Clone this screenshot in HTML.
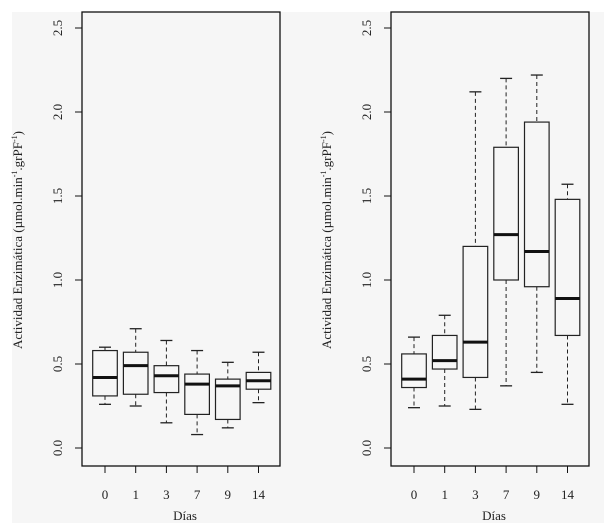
<!DOCTYPE html>
<html><head><meta charset="utf-8"><style>
html,body{margin:0;padding:0;background:#fff;}
svg{display:block;font-family:"Liberation Serif",serif;}
</style></head><body>
<svg id="chart" width="604" height="523" viewBox="0 0 604 523">
<rect x="12" y="12" width="592" height="511" fill="#f6f6f6"/>
</svg>
<script>
const categories = ["0","1","3","7","9","14"];
const leftMin = [0.26,0.25,0.15,0.08,0.12,0.27];
const leftQ1  = [0.31,0.32,0.33,0.20,0.17,0.35];
const leftMed = [0.42,0.49,0.43,0.38,0.37,0.40];
const leftQ3  = [0.58,0.57,0.49,0.44,0.41,0.45];
const leftMax = [0.60,0.71,0.64,0.58,0.51,0.57];
const rightMin = [0.24,0.25,0.23,0.37,0.45,0.26];
const rightQ1  = [0.36,0.47,0.42,1.00,0.96,0.67];
const rightMed = [0.41,0.52,0.63,1.27,1.17,0.89];
const rightQ3  = [0.56,0.67,1.20,1.79,1.94,1.48];
const rightMax = [0.66,0.79,2.12,2.20,2.22,1.57];
const yTicks = [0,0.5,1.0,1.5,2.0,2.5];
const yTickLabels = ["0.0","0.5","1.0","1.5","2.0","2.5"];

const NS="http://www.w3.org/2000/svg";
const svg=document.getElementById('chart');
function mk(tag,attrs,parent){const e=document.createElementNS(NS,tag);for(const k in attrs)e.setAttribute(k,attrs[k]);(parent||svg).appendChild(e);return e;}
function yS(v){return 448-v*168;}

function panel(px,name,mins,q1s,meds,q3s,maxs){
  const g=mk('g',{});
  
  
  const x0=px;
  function xS(i){return x0+23+i*30.7;}
  const fr=mk('rect',{x:x0,y:12,width:198,height:454,fill:'none',stroke:'#111','stroke-width':1.3},g);
  
  
  yTicks.forEach((t,i)=>{
    const y=yS(t);
    const tl=mk('line',{x1:x0-7,x2:x0,y1:y,y2:y,stroke:'#111','stroke-width':1},g);
    
    
    const tx=mk('text',{x:0,y:0,transform:`translate(${x0-20},${y}) rotate(-90)`,'text-anchor':'middle','font-size':13,fill:'#222'},g);
    tx.textContent=yTickLabels[i];
    
    
  });
  const yt=mk('text',{x:0,y:0,transform:`translate(${x0-60},240) rotate(-90)`,'text-anchor':'middle','font-size':13,fill:'#222'},g);
  yt.innerHTML='Actividad Enzimática (µmol.min<tspan dy="-5" font-size="8">-1</tspan><tspan dy="5">.grPF</tspan><tspan dy="-5" font-size="8">-1</tspan><tspan dy="5">)</tspan>';
  
  
  categories.forEach((c,i)=>{
    const x=xS(i);
    const tk=mk('line',{x1:x,x2:x,y1:466,y2:473,stroke:'#111','stroke-width':1},g);
    
    
    const lb=mk('text',{x:x,y:499,'text-anchor':'middle','font-size':13,fill:'#222'},g);
    lb.textContent=c;
    
    
    const bg=mk('g',{},g);
    
    
    const hw=12.3;
    mk('line',{x1:x,x2:x,y1:yS(maxs[i]),y2:yS(q3s[i]),stroke:'#222','stroke-width':1,'stroke-dasharray':'4,3'},bg);
    mk('line',{x1:x,x2:x,y1:yS(q1s[i]),y2:yS(mins[i]),stroke:'#222','stroke-width':1,'stroke-dasharray':'4,3'},bg);
    mk('line',{x1:x-6,x2:x+6,y1:yS(maxs[i]),y2:yS(maxs[i]),stroke:'#222','stroke-width':1.3},bg);
    mk('line',{x1:x-6,x2:x+6,y1:yS(mins[i]),y2:yS(mins[i]),stroke:'#222','stroke-width':1.3},bg);
    mk('rect',{x:x-hw,y:yS(q3s[i]),width:hw*2,height:yS(q1s[i])-yS(q3s[i]),fill:'none',stroke:'#222','stroke-width':1.2},bg);
    mk('line',{x1:x-hw,x2:x+hw,y1:yS(meds[i]),y2:yS(meds[i]),stroke:'#111','stroke-width':3},bg);
  });
  const xt=mk('text',{x:x0+103,y:520,'text-anchor':'middle','font-size':13,fill:'#222'},g);
  xt.textContent='Días';
  
  
}
panel(82,'left-panel',leftMin,leftQ1,leftMed,leftQ3,leftMax);
panel(391,'right-panel',rightMin,rightQ1,rightMed,rightQ3,rightMax);
</script>
</body></html>
